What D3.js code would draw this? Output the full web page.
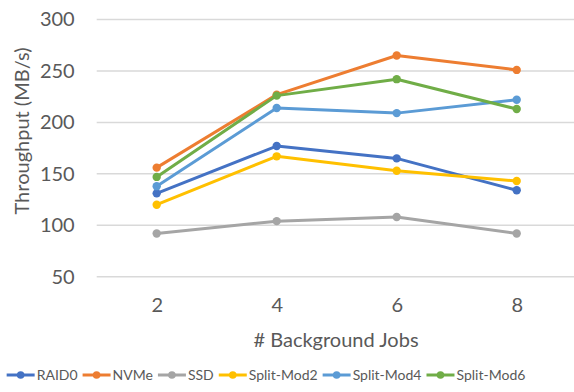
<!DOCTYPE html>
<html>
<head>
<meta charset="utf-8">
<script src="https://cdn.jsdelivr.net/npm/d3@7"></script>
<style>
  html, body { margin: 0; padding: 0; background: #fff; }
  svg { display: block; font-family: Lato, "Open Sans", sans-serif; }
</style>
</head>
<body>
<svg id="chart" width="574" height="392"></svg>
<script>
// Throughput per storage configuration vs. number of background jobs
const jobs = ["2", "4", "6", "8"];
const seriesNames = ["RAID0", "NVMe", "SSD", "Split-Mod2", "Split-Mod4", "Split-Mod6"];
const raid0     = [131, 177, 165, 134];
const nvme      = [156, 227, 265, 251];
const ssd       = [92, 104, 108, 92];
const splitMod2 = [120, 167, 153, 143];
const splitMod4 = [138, 214, 209, 222];
const splitMod6 = [147, 226, 242, 213];
const yTicks = [50, 100, 150, 200, 250, 300];
const colors = ["#4472C4", "#ED7D31", "#A5A5A5", "#FFC000", "#5B9BD5", "#70AD47"];

const seriesValues = [raid0, nvme, ssd, splitMod2, splitMod4, splitMod6];
const series = seriesNames.map((name, i) => ({ name, values: seriesValues[i], color: colors[i] }));

const svg = d3.select("#chart");
const plot = { left: 96.7, right: 576.7, top: 19.5, bottom: 276.7 };

const x = d3.scalePoint().domain(jobs).range([plot.left, plot.right]).padding(0.5);
const y = d3.scaleLinear().domain([50, 300]).range([plot.bottom, plot.top]);

// Horizontal gridlines
svg.append("g")
  .selectAll("line")
  .data(yTicks)
  .join("line")
  .attr("x1", plot.left).attr("x2", plot.right)
  .attr("y1", d => y(d)).attr("y2", d => y(d))
  .attr("stroke", "#d9d9d9").attr("stroke-width", 1.5);

// Y axis tick labels
const yAxis = svg.append("g")
  .attr("transform", `translate(${plot.left - 22},0)`)
  .call(d3.axisLeft(y).tickValues(yTicks).tickSize(0).tickPadding(0));
yAxis.select(".domain").remove();
yAxis.selectAll("text")
  .attr("fill", "#595959").attr("font-size", 20)
  .attr("font-family", "Lato, 'Open Sans', sans-serif");

// X axis tick labels
const xAxis = svg.append("g")
  .attr("transform", `translate(0,${plot.bottom + 21})`)
  .call(d3.axisBottom(x).tickSize(0).tickPadding(0));
xAxis.select(".domain").remove();
xAxis.selectAll("text")
  .attr("fill", "#595959").attr("font-size", 20)
  .attr("font-family", "Lato, 'Open Sans', sans-serif");

// Axis titles
svg.append("text")
  .attr("x", 336).attr("y", 347)
  .attr("text-anchor", "middle")
  .attr("fill", "#595959").attr("font-size", 20)
  .text("# Background Jobs");

svg.append("text")
  .attr("transform", "translate(29,131) rotate(-90)")
  .attr("text-anchor", "middle")
  .attr("fill", "#595959").attr("font-size", 20)
  .text("Throughput (MB/s)");

// Series lines and markers
const line = d3.line().x((d, i) => x(jobs[i])).y(d => y(d));
const g = svg.append("g");
series.forEach(s => {
  g.append("path")
    .attr("d", line(s.values))
    .attr("fill", "none")
    .attr("stroke", s.color)
    .attr("stroke-width", 3)
    .attr("stroke-linejoin", "round");
  g.selectAll(null)
    .data(s.values)
    .join("circle")
    .attr("cx", (d, i) => x(jobs[i]))
    .attr("cy", d => y(d))
    .attr("r", 4.2)
    .attr("fill", s.color);
});

// Legend: laid out left to right, then centred under the chart
const legend = svg.append("g");
let lx = 0;
series.forEach(s => {
  const item = legend.append("g").attr("transform", `translate(${lx},0)`);
  item.append("line")
    .attr("x1", 0).attr("x2", 28).attr("y1", 0).attr("y2", 0)
    .attr("stroke", s.color).attr("stroke-width", 3);
  item.append("circle").attr("cx", 14).attr("cy", 0).attr("r", 3.8).attr("fill", s.color);
  const t = item.append("text")
    .attr("x", 30).attr("y", 0).attr("dy", "0.35em")
    .attr("fill", "#595959").attr("font-size", 14)
    .text(s.name);
  lx += 30 + t.node().getComputedTextLength() + 5;
});
const legendWidth = lx - 5;
const lx0 = Math.max(4, Math.min(570 - legendWidth, 266 - legendWidth / 2));
legend.attr("transform", `translate(${lx0},375)`);
</script>
</body>
</html>
